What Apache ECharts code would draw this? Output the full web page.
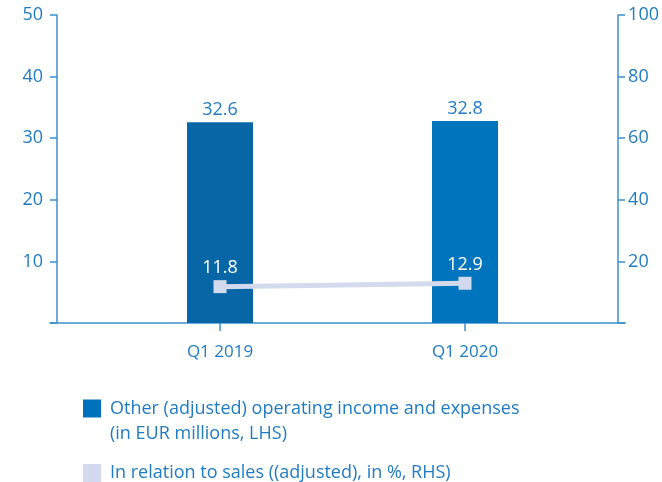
<!DOCTYPE html>
<html>
<head>
<meta charset="utf-8">
<script src="https://cdn.jsdelivr.net/npm/echarts@6/dist/echarts.min.js"></script>
<style>
  html, body { margin: 0; padding: 0; background: #fff; }
  #main { width: 662px; height: 482px; }
</style>
</head>
<body>
<div id="main"></div>
<script>
// data
var quarters = ['Q1 2019', 'Q1 2020'];
var incomeValues = [32.6, 32.8];      // EUR millions, LHS
var salesShare = [11.8, 12.9];        // %, RHS
var barColors = ['#0766a6', '#0075bd'];

var axisColor = '#3b90d0';
var textColor = '#1f7cc2';
var lineColor = '#d3daee';
var font = 'Open Sans';

var incomeName = 'Other (adjusted) operating income and expenses\n(in EUR millions, LHS)';
var shareName = 'In relation to sales ((adjusted), in %, RHS)';

var chart = echarts.init(document.getElementById('main'));

var hiddenY = function (grid, max) {
    return { gridIndex: grid, type: 'value', min: 0, max: max, show: false, splitLine: { show: false } };
};

var legendRich = {
    t: { color: textColor, fontSize: 18, fontFamily: font, lineHeight: 25, padding: [0, 0, 0, 4] }
};

var option = {
    animation: false,
    textStyle: { fontFamily: font },
    grid: [
        { left: 50, right: 35, top: 15, bottom: 159 },
        { left: 97.5, right: 74.5, top: 15, bottom: 159 }
    ],
    legend: [
        {
            data: [{ name: incomeName, itemStyle: { color: '#0072bb' } }],
            // leading blank line so the icon sits beside the first line
            formatter: function (name) {
                return '{t| }\n' + name.split('\n').map(function (s) { return '{t|' + s + '}'; }).join('\n');
            },
            left: 78, top: 366, icon: 'rect', itemWidth: 18, itemHeight: 18, selectedMode: false,
            textStyle: { color: textColor, fontSize: 18, fontFamily: font, lineHeight: 25, rich: legendRich }
        },
        {
            data: [{ name: shareName, itemStyle: { color: lineColor } }],
            formatter: function (name) { return '{t|' + name + '}'; },
            left: 78, top: 459, icon: 'rect', itemWidth: 18, itemHeight: 18, selectedMode: false,
            textStyle: { color: textColor, fontSize: 18, fontFamily: font, rich: legendRich }
        }
    ],
    xAxis: [
        {
            gridIndex: 0, type: 'category', data: [],
            axisLine: { lineStyle: { color: axisColor, width: 1.5 } },
            axisTick: { show: false }, axisLabel: { show: false }
        },
        {
            gridIndex: 1, type: 'category', data: quarters,
            axisLine: { show: false },
            axisTick: { show: true, alignWithLabel: true, length: 8, lineStyle: { color: axisColor, width: 1.5 } },
            axisLabel: { color: textColor, fontSize: 17, margin: 21, fontFamily: font }
        }
    ],
    yAxis: [
        {
            gridIndex: 0, type: 'value', position: 'left', offset: -7,
            min: 0, max: 50, interval: 10,
            axisLine: { show: true, lineStyle: { color: axisColor, width: 1.5 } },
            axisTick: { show: true, length: 7, lineStyle: { color: axisColor, width: 1.5 } },
            axisLabel: {
                color: textColor, fontSize: 18, margin: 14, fontFamily: font,
                formatter: function (v) { return v === 0 ? '' : v; }
            },
            splitLine: { show: false }
        },
        {
            gridIndex: 0, type: 'value', position: 'right', offset: -7,
            min: 0, max: 100, interval: 20,
            axisLine: { show: true, lineStyle: { color: axisColor, width: 1.5 } },
            axisTick: { show: true, length: 7, lineStyle: { color: axisColor, width: 1.5 } },
            axisLabel: {
                color: textColor, fontSize: 18, margin: 10, fontFamily: font,
                formatter: function (v) { return v === 0 ? '' : v; }
            },
            splitLine: { show: false }
        },
        hiddenY(1, 50),
        hiddenY(1, 100)
    ],
    series: [
        {
            name: incomeName,
            type: 'bar', xAxisIndex: 1, yAxisIndex: 2,
            barWidth: 66,
            data: incomeValues.map(function (v, i) {
                return { value: v, itemStyle: { color: barColors[i] } };
            }),
            label: {
                show: true, position: 'top', distance: 3,
                color: textColor, fontSize: 18, fontFamily: font,
                formatter: function (p) { return p.value.toFixed(1); }
            }
        },
        {
            name: shareName,
            type: 'line', xAxisIndex: 1, yAxisIndex: 3,
            data: salesShare,
            symbol: 'rect', symbolSize: 13,
            lineStyle: { color: lineColor, width: 5 },
            itemStyle: { color: lineColor },
            z: 5,
            label: {
                show: true, position: 'top', distance: 3,
                color: '#ffffff', fontSize: 18, fontFamily: font,
                formatter: function (p) { return p.value.toFixed(1); }
            }
        }
    ]
};

chart.setOption(option);
</script>
</body>
</html>
